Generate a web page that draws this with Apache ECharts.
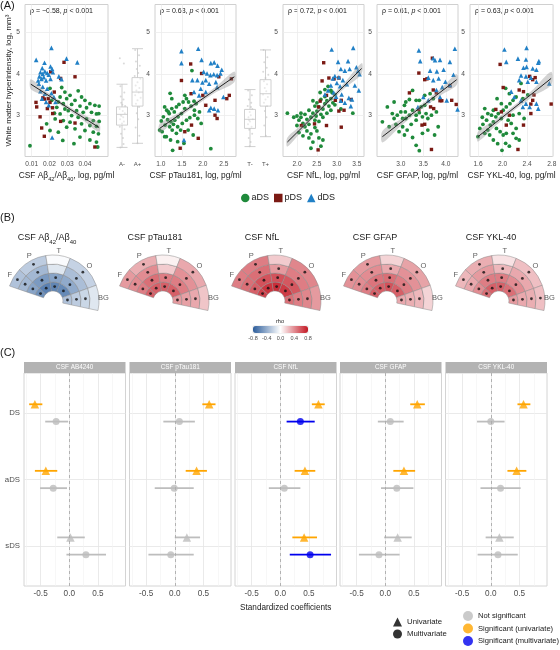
<!DOCTYPE html>
<html>
<head>
<meta charset="utf-8">
<script src="https://cdn.jsdelivr.net/npm/echarts@6.0.0/dist/echarts.min.js"></script>
<style>html,body{margin:0;padding:0;background:#fff;}#chart{width:560px;height:650px;}</style>
</head>
<body>
<div id="chart"></div>
<script>
// ======================= DATA =======================
const groups = ['aDS', 'pDS', 'dDS'];

// ---- Panel A: CSF Aβ42/Aβ40 ----
const ab_aDS = [[0.0203,3.65],[0.0269,3.67],[0.0362,3.59],[0.0316,3.48],[0.0381,3.44],[0.0297,3.40],[0.0344,3.36],[0.0400,3.36],[0.0428,3.28],[0.0456,3.24],[0.0480,3.22],[0.0250,3.32],[0.0278,3.28],[0.0325,3.26],[0.0372,3.22],[0.0409,3.18],[0.0241,3.19],[0.0287,3.15],[0.0306,3.11],[0.0353,3.11],[0.0390,3.07],[0.0437,3.07],[0.0465,3.03],[0.0478,3.04],[0.0260,3.03],[0.0325,2.99],[0.0362,2.95],[0.0409,2.91],[0.0447,2.87],[0.0480,2.85],[0.0232,2.91],[0.0278,2.87],[0.0316,2.83],[0.0381,2.79],[0.0428,2.75],[0.0465,2.73],[0.0297,2.71],[0.0344,2.67],[0.0400,2.63],[0.0447,2.59],[0.0476,2.55],[0.0250,2.59],[0.0203,2.63],[0.0275,2.39],[0.0372,2.47],[0.0428,2.40],[0.0465,2.35],[0.0472,2.23],[0.0338,2.31],[0.0184,2.79],[0.0228,3.05],[0.0260,3.44],[0.0287,3.56],[0.0090,2.26],[0.0213,3.36]];
const ab_pDS = [[0.0282,4.28],[0.0344,3.93],[0.0207,4.05],[0.0263,3.89],[0.0227,3.56],[0.0171,3.39],[0.0163,3.42],[0.0124,3.31],[0.0203,3.31],[0.0217,3.18],[0.0147,2.96],[0.0156,2.69],[0.0171,2.49],[0.0218,3.04],[0.0263,2.85],[0.0344,2.81],[0.0456,2.23],[0.0128,3.20],[0.0188,3.16],[0.0193,3.40]];
const ab_dDS = [[0.0211,4.63],[0.0125,4.34],[0.0172,4.27],[0.0296,4.37],[0.0357,4.28],[0.0159,4.14],[0.0206,4.18],[0.0215,4.12],[0.0149,4.04],[0.0162,4.00],[0.0174,4.06],[0.0187,4.02],[0.0196,3.98],[0.0219,4.04],[0.0143,3.94],[0.0155,3.88],[0.0168,3.92],[0.0181,3.84],[0.0206,3.88],[0.0253,3.94],[0.0268,3.87],[0.0140,3.76],[0.0162,3.69],[0.0187,3.64],[0.0149,3.58],[0.0174,3.52],[0.0211,3.53],[0.0158,3.40],[0.0181,3.32],[0.0225,3.44],[0.0234,3.32],[0.0215,2.46],[0.0196,3.24],[0.0136,3.84]];
const ab_fit = [[0.0095,3.75],[0.048,2.70]];
const ab_ci = [[0.0095,3.63,3.87],[0.018,3.46,3.58],[0.028,3.20,3.29],[0.038,2.91,3.04],[0.048,2.59,2.81]];

// ---- Panel A: CSF pTau181 ----
const pt_aDS = [[1.22,3.53],[1.09,3.20],[1.14,3.12],[1.20,3.04],[1.26,3.16],[1.32,3.08],[1.37,3.20],[1.43,3.26],[1.53,3.32],[1.61,3.40],[1.66,3.32],[1.72,3.22],[1.79,3.34],[1.84,3.28],[1.57,3.16],[1.49,3.04],[1.41,2.96],[1.33,2.88],[1.24,2.84],[1.16,2.89],[1.06,2.96],[1.01,2.86],[1.10,2.76],[1.21,2.72],[1.30,2.78],[1.40,2.72],[1.51,2.80],[1.61,2.88],[1.69,2.94],[1.80,3.00],[1.88,2.92],[1.96,2.80],[1.27,2.64],[1.37,2.56],[1.47,2.64],[1.13,2.48],[1.03,2.60],[1.23,2.40],[1.40,2.36],[1.65,2.64],[1.77,2.52],[1.55,2.32],[1.28,2.15],[2.19,2.19],[1.74,4.08],[1.26,3.40],[1.80,3.12],[1.92,3.08],[0.97,2.64],[1.09,2.48],[1.18,3.08],[1.57,3.48]];
const pt_pDS = [[1.71,4.24],[1.49,3.84],[1.97,4.01],[2.38,3.93],[1.72,3.52],[2.00,3.48],[2.57,3.40],[2.63,3.48],[2.29,3.36],[2.07,3.24],[2.29,3.00],[1.73,2.76],[1.57,2.60],[1.89,2.44],[1.46,2.20],[2.34,2.92],[2.68,3.88]];
const pt_dDS = [[1.49,4.26],[1.49,4.55],[1.89,4.61],[1.97,4.34],[2.19,4.26],[2.27,4.28],[2.35,4.20],[2.45,4.10],[2.02,4.05],[2.10,4.01],[2.18,3.97],[2.26,3.99],[2.34,3.97],[2.42,4.01],[1.75,3.85],[1.87,3.85],[1.99,3.79],[2.07,3.85],[1.95,3.64],[2.15,3.76],[2.31,3.80],[2.49,3.44],[2.19,3.18],[2.27,3.16],[2.15,3.12],[2.36,3.12],[1.55,2.40],[1.79,3.56],[1.91,3.48],[2.07,3.56],[2.34,3.68]];
const pt_fit = [[0.97,2.68],[2.75,3.93]];
const pt_ci = [[0.97,2.57,2.79],[1.4,2.92,3.04],[1.9,3.28,3.38],[2.3,3.55,3.68],[2.75,3.80,4.06]];

// ---- Panel A: CSF NfL ----
const nf_aDS = [[1.76,3.05],[1.92,2.95],[2.0,2.75],[2.05,2.88],[2.1,2.95],[2.15,2.80],[2.2,2.72],[2.25,2.90],[2.3,2.78],[2.35,2.95],[2.4,3.05],[2.45,2.88],[2.5,3.10],[2.55,3.20],[2.6,3.02],[2.65,3.15],[2.7,3.28],[2.75,3.35],[2.8,3.22],[2.85,3.40],[2.9,3.30],[2.95,3.50],[2.88,3.55],[2.7,3.45],[2.6,3.38],[2.5,3.30],[2.45,3.22],[2.4,3.35],[2.3,3.12],[2.2,3.02],[2.1,3.05],[2.0,2.98],[2.25,2.62],[2.35,2.55],[2.45,2.70],[2.55,2.85],[2.65,2.95],[2.75,3.05],[2.85,3.12],[2.3,2.45],[2.4,2.35],[2.35,2.20],[2.55,2.45],[2.65,2.40],[2.15,2.50],[2.05,2.58],[2.85,3.60],[2.78,3.70],[2.7,3.62],[2.95,3.25],[2.5,2.62],[3.1,3.15],[3.4,3.05],[2.6,2.25],[2.48,2.98],[2.58,3.55]];
const nf_pDS = [[2.67,4.27],[2.80,3.90],[2.93,3.88],[3.05,3.90],[2.63,3.83],[2.74,3.48],[2.96,3.36],[3.11,3.36],[3.36,3.38],[3.05,3.10],[2.54,3.20],[2.74,2.75],[2.44,2.79],[2.11,2.75],[2.53,2.16],[3.11,2.71],[3.18,3.12],[2.58,3.34]];
const nf_dDS = [[2.87,4.59],[3.41,4.63],[3.03,4.29],[3.28,4.31],[3.10,4.12],[3.20,4.08],[3.32,4.12],[3.49,4.16],[3.53,4.07],[3.57,3.99],[2.90,3.89],[2.95,3.95],[3.05,3.92],[3.15,3.85],[3.00,3.78],[2.85,3.72],[3.08,3.70],[3.25,3.75],[3.45,3.72],[2.78,3.60],[2.92,3.55],[3.12,3.50],[3.30,3.42],[3.38,3.38],[3.10,3.35],[2.70,3.50],[3.55,3.60],[3.20,3.30],[3.35,3.22],[2.98,3.45]];
const nf_fit = [[1.76,2.35],[3.62,4.13]];
const nf_ci = [[1.76,2.24,2.46],[2.2,2.71,2.83],[2.7,3.20,3.30],[3.2,3.66,3.80],[3.62,4.00,4.26]];

// ---- Panel A: CSF GFAP ----
const gf_aDS = [[2.59,2.84],[2.70,3.20],[2.85,3.32],[2.81,3.04],[2.92,3.00],[3.00,3.08],[3.08,3.24],[3.11,3.32],[3.10,3.08],[3.19,3.00],[3.26,3.12],[3.34,3.00],[3.41,3.06],[3.48,2.96],[3.56,3.04],[3.60,2.92],[3.68,3.00],[3.41,3.36],[3.53,3.48],[3.65,3.52],[3.72,3.40],[3.26,3.60],[3.19,3.38],[3.34,3.36],[2.74,2.72],[2.89,2.78],[3.04,2.72],[3.14,2.64],[3.23,2.78],[3.34,2.88],[3.08,2.52],[3.26,2.46],[3.34,2.27],[3.41,2.14],[3.48,2.56],[3.60,2.64],[3.75,2.52],[3.83,2.72],[2.96,2.60],[3.11,2.92],[2.85,2.92],[3.04,2.92],[3.45,3.20],[3.53,3.24],[3.79,3.08]];
const gf_pDS = [[3.70,4.38],[3.40,4.02],[3.53,3.86],[3.58,3.88],[3.72,3.61],[3.87,3.35],[3.91,3.35],[4.13,3.36],[4.23,3.26],[3.66,3.20],[3.73,3.16],[3.19,3.54],[3.40,3.14],[3.53,2.78],[3.47,2.76],[3.68,2.17],[4.09,3.71],[3.79,3.54]];
const gf_dDS = [[3.40,4.57],[4.20,4.61],[3.43,4.31],[3.72,4.38],[3.76,4.33],[3.87,4.34],[4.09,4.29],[3.65,4.08],[3.80,4.06],[3.95,4.10],[4.17,3.98],[3.61,3.91],[3.72,3.85],[3.84,3.89],[3.99,3.81],[4.09,3.73],[3.92,3.68],[3.79,3.61],[4.26,3.14],[3.38,3.20],[4.02,3.36],[3.61,3.36],[3.50,3.44],[3.87,3.44]];
const gf_fit = [[2.59,2.48],[4.24,3.86]];
const gf_ci = [[2.59,2.34,2.62],[3.0,2.74,2.90],[3.5,3.18,3.30],[3.9,3.49,3.66],[4.24,3.73,3.99]];

// ---- Panel A: CSF YKL-40 ----
const yk_aDS = [[1.60,2.48],[1.63,2.68],[1.68,2.78],[1.74,2.88],[1.71,2.56],[1.76,2.64],[1.80,2.76],[1.85,2.84],[1.89,2.96],[1.93,3.04],[1.98,2.92],[2.01,3.12],[2.06,3.20],[2.12,3.28],[2.17,3.36],[2.22,3.44],[1.90,2.68],[1.96,2.60],[2.01,2.52],[2.06,2.56],[1.79,2.52],[1.85,2.40],[1.92,2.31],[2.05,2.32],[2.11,2.25],[1.99,2.15],[2.17,2.56],[2.22,2.44],[2.27,2.40],[2.22,2.68],[2.14,2.80],[2.09,2.88],[1.98,3.28],[1.91,3.40],[1.82,3.00],[1.76,3.04],[1.67,2.95],[1.85,3.12],[2.30,3.77],[2.27,3.04],[2.35,2.92],[2.17,3.00],[2.11,3.52],[2.33,3.40],[2.41,3.49],[1.71,3.16],[2.05,3.65]];
const yk_pDS = [[1.96,4.23],[2.44,3.94],[2.49,3.86],[2.53,3.91],[2.27,3.61],[2.34,3.57],[2.51,3.49],[2.49,3.36],[2.46,3.27],[2.79,3.27],[1.89,3.14],[1.98,3.08],[2.11,3.00],[2.06,2.76],[2.34,2.76],[2.46,3.04],[2.25,2.17],[2.01,3.67]];
const yk_dDS = [[2.03,4.59],[2.39,4.63],[2.25,4.37],[2.38,4.35],[2.06,4.29],[2.34,4.15],[2.39,4.17],[2.49,4.13],[2.59,4.31],[2.58,4.27],[2.55,4.10],[2.30,3.96],[2.38,3.94],[2.46,3.91],[2.27,3.85],[2.41,3.81],[2.55,3.81],[2.76,3.77],[2.14,3.57],[2.19,3.44],[2.30,3.36],[2.38,3.28],[2.44,3.20],[2.58,3.16],[2.55,3.28],[2.33,3.20]];
const yk_fit = [[1.6,2.48],[2.79,3.89]];
const yk_ci = [[1.6,2.36,2.60],[1.9,2.76,2.91],[2.2,3.13,3.25],[2.5,3.46,3.63],[2.79,3.73,4.05]];

// Correlation annotations
const rhoLabels = ['−0.58', '0.63', '0.72', '0.61', '0.63'];
const pLabels = ['< 0.001', '< 0.001', '< 0.001', '< 0.001', '< 0.001'];

// Axis tick labels for Panel A
const ticks_ab = [0.01, 0.02, 0.03, 0.04];
const ticks_pt = [1.0, 1.5, 2.0, 2.5];
const ticks_nf = [2.0, 2.5, 3.0, 3.5];
const ticks_gf = [3.0, 3.5, 4.0];
const ticks_yk = [1.6, 2.0, 2.4, 2.8];
const ticks_wmh = [3, 4, 5];

// Marginal box plots: [min, Q1, median, Q3, max]
const boxA_cats = ['A-', 'A+'];
const boxA = [[2.22, 2.76, 3.02, 3.20, 3.75], [2.32, 3.22, 3.56, 3.91, 4.61]];
const boxT_cats = ['T-', 'T+'];
const boxT = [[2.24, 2.68, 2.90, 3.14, 3.62], [2.48, 3.22, 3.52, 3.86, 4.58]];
const jitA = [[0.86,4.38],[1.12,4.25],[0.90,3.70],[1.15,3.55],[0.92,3.45],[1.10,3.38],[0.95,3.30],[1.20,3.22],[0.85,3.15],[1.05,3.10],[1.18,3.05],[0.92,3.00],[1.08,2.95],[0.88,2.90],[1.12,2.85],[1.00,2.80],[0.86,2.72],[1.16,2.66],[0.94,2.55],[1.06,2.45],[1.10,2.30],[0.90,2.22],[1.02,3.25],[0.97,2.98],
  [1.85,4.58],[2.10,4.45],[1.90,4.30],[2.15,4.20],[1.95,4.12],[2.05,4.02],[1.82,3.95],[2.18,3.88],[2.00,3.80],[1.88,3.72],[2.12,3.66],[1.93,3.60],[2.08,3.55],[1.85,3.48],[2.20,3.42],[2.00,3.36],[1.90,3.28],[2.10,3.20],[1.95,3.05],[2.05,2.90],[1.88,2.70],[2.12,2.50],[2.00,2.32]];
const jitT = [[0.88,3.60],[1.12,3.48],[0.93,3.38],[1.08,3.30],[0.85,3.22],[1.15,3.15],[0.98,3.08],[1.05,3.00],[0.90,2.95],[1.18,2.90],[1.00,2.85],[0.87,2.78],[1.10,2.72],[0.95,2.65],[1.14,2.55],[0.92,2.45],[1.04,2.35],[0.98,2.25],[1.06,3.20],[0.94,2.88],
  [1.88,4.58],[2.12,4.40],[1.92,4.28],[2.08,4.15],[1.85,4.05],[2.18,3.98],[2.00,3.90],[1.90,3.82],[2.10,3.75],[1.95,3.66],[2.05,3.58],[1.84,3.50],[2.15,3.44],[2.00,3.38],[1.90,3.30],[2.10,3.22],[1.96,3.10],[2.06,2.95],[1.92,2.75],[2.02,2.50]];

// ---- Panel B: regional rho (lobes x rings inner->outer) ----
const lobes = ['F', 'P', 'T', 'O', 'BG'];
const fanTitles = ['{n|CSF Aβ}{s|42}{n|/Aβ}{s|40}', '{n|CSF pTau181}', '{n|CSF NfL}', '{n|CSF GFAP}', '{n|CSF YKL-40}'];
const rho_ab = [[-0.55,-0.45,-0.35,-0.30],[-0.62,-0.50,-0.35,-0.25],[-0.60,-0.45,-0.12,-0.02],[-0.58,-0.42,-0.32,-0.22],[-0.30,-0.25,-0.20,-0.12]];
const rho_pt = [[0.55,0.45,0.40,0.35],[0.55,0.50,0.40,0.28],[0.55,0.45,0.18,0.05],[0.55,0.45,0.38,0.30],[0.35,0.33,0.30,0.20]];
const rho_nf = [[0.65,0.55,0.50,0.45],[0.70,0.60,0.50,0.45],[0.72,0.60,0.35,0.18],[0.68,0.58,0.45,0.42],[0.50,0.45,0.42,0.35]];
const rho_gf = [[0.55,0.45,0.40,0.38],[0.55,0.48,0.40,0.35],[0.60,0.50,0.30,0.15],[0.55,0.45,0.38,0.32],[0.30,0.28,0.25,0.15]];
const rho_yk = [[0.50,0.40,0.30,0.25],[0.55,0.45,0.35,0.28],[0.55,0.45,0.25,0.10],[0.50,0.40,0.30,0.22],[0.35,0.30,0.28,0.22]];
const sig_ab = [[1,1,1,1],[1,1,1,1],[1,1,0,0],[1,1,1,1],[1,1,1,0]];
const sig_pt = [[1,1,1,1],[1,1,1,1],[1,1,0,0],[1,1,1,1],[1,1,1,0]];
const sig_nf = [[1,1,1,1],[1,1,1,1],[1,1,1,0],[1,1,1,1],[1,1,1,0]];
const sig_gf = [[1,1,1,1],[1,1,1,1],[1,1,1,0],[1,1,1,1],[1,1,1,0]];
const sig_yk = [[1,1,1,1],[1,1,1,1],[1,1,1,0],[1,1,1,1],[1,1,1,1]];
const rhoTicks = [-0.8, -0.4, 0.0, 0.4, 0.8];

// ---- Panel C: standardized coefficients [estimate, lower, upper] for rows DS, aDS, sDS ----
const forestRows = ['DS', 'aDS', 'sDS'];
const stripTitles = ['CSF AB4240', 'CSF pTau181', 'CSF NfL', 'CSF GFAP', 'CSF YKL-40'];
const uni_ab = [[-0.60,-0.70,-0.47],[-0.41,-0.60,-0.21],[0.02,-0.21,0.27]];
const multi_ab = [[-0.23,-0.42,-0.02],[-0.28,-0.51,-0.04],[0.29,-0.05,0.64]];
const uni_pt = [[0.60,0.48,0.71],[0.38,0.19,0.56],[0.21,0.00,0.44]];
const multi_pt = [[0.08,-0.20,0.35],[-0.01,-0.35,0.33],[-0.07,-0.46,0.33]];
const uni_nf = [[0.665,0.55,0.775],[0.43,0.25,0.61],[0.415,0.21,0.64]];
const multi_nf = [[0.35,0.11,0.60],[0.07,-0.20,0.35],[0.52,0.165,0.885]];
const uni_gf = [[0.557,0.435,0.69],[0.325,0.14,0.52],[0.215,-0.02,0.46]];
const multi_gf = [[0.087,-0.13,0.32],[0.20,-0.075,0.49],[-0.11,-0.46,0.25]];
const uni_yk = [[0.57,0.465,0.69],[0.45,0.29,0.62],[0.15,-0.09,0.40]];
const multi_yk = [[0.00,-0.24,0.24],[0.17,-0.18,0.52],[0.125,-0.23,0.47]];
const uniSig = [[1,1,0],[1,1,0],[1,1,1],[1,1,0],[1,1,0]];
const multiSig = [[0,0,0],[0,0,0],[1,0,1],[0,0,0],[0,0,0]];
const cTicks = [-0.5, 0.0, 0.5];
const cMinor = [-0.75, -0.25, 0.25, 0.75];

// ======================= STYLE / LAYOUT =======================
const FONT = "'Liberation Sans', Arial, Helvetica, sans-serif";
const GCOL = ['#1f8a3b', '#7b1a14', '#2180c6'];
const GSYM = ['circle', 'rect', 'triangle'];
const GSZ = [3.8, 3.4, 4.6];
const SIGCOL = ['#bdbdbd', '#ffa500', '#0000ee'];
const RHO_NEG = [44, 93, 155], RHO_POS = [196, 24, 36];
const TXT = '#1a1a1a', TICK = '#4d4d4d';

function rhoColor(v) {
  const t = Math.min(1, Math.abs(v) / 0.8);
  const e = v < 0 ? RHO_NEG : RHO_POS;
  const c = e.map(k => Math.round(255 + (k - 255) * t));
  return 'rgb(' + c.join(',') + ')';
}

const option = {
  animation: false, backgroundColor: '#ffffff', textStyle: { fontFamily: FONT },
  grid: [], xAxis: [], yAxis: [], polar: [], angleAxis: [], radiusAxis: [],
  series: [], graphic: [], legend: [], visualMap: []
};
const X = option.xAxis, Y = option.yAxis, S = option.series, G = option.graphic;
function addGrid(g) { option.grid.push(g); return option.grid.length - 1; }
function txt(x, y, text, st) {
  G.push({ type: 'text', x: x, y: y, silent: true,
    style: Object.assign({ text: text, fontFamily: FONT, fontSize: 10, fill: TXT, align: 'left', verticalAlign: 'middle' }, st || {}) });
}
const subRich = (n, s) => ({ n: { fontSize: n, lineHeight: n + 3, verticalAlign: 'top', fontFamily: FONT, color: TXT },
                           s: { fontSize: s, lineHeight: n + 3, verticalAlign: 'bottom', fontFamily: FONT, color: TXT } });

// ======================= PANEL A =======================
const A_TOP = 4.5, A_H = 152, Y_MIN = 2.0, Y_MAX = 5.68;
const aPanels = [
  { x: [25, 108], min: 0.0062, max: 0.053, ticks: ticks_ab, dec: 2, name: '{n|CSF Aβ}{s|42}{n|/Aβ}{s|40}{n|, log, pg/ml}', pts: [ab_aDS, ab_pDS, ab_dDS], fit: ab_fit, ci: ab_ci },
  { x: [155, 236], min: 0.86, max: 2.79, ticks: ticks_pt, dec: 1, name: '{n|CSF pTau181, log, pg/ml}', pts: [pt_aDS, pt_pDS, pt_dDS], fit: pt_fit, ci: pt_ci },
  { x: [283, 364], min: 1.65, max: 3.68, ticks: ticks_nf, dec: 1, name: '{n|CSF NfL, log, pg/ml}', pts: [nf_aDS, nf_pDS, nf_dDS], fit: nf_fit, ci: nf_ci },
  { x: [377, 458], min: 2.47, max: 4.27, ticks: ticks_gf, dec: 1, name: '{n|CSF GFAP, log, pg/ml}', pts: [gf_aDS, gf_pDS, gf_dDS], fit: gf_fit, ci: gf_ci },
  { x: [470, 553], min: 1.47, max: 2.82, ticks: ticks_yk, dec: 1, name: '{n|CSF YKL-40, log, pg/ml}', pts: [yk_aDS, yk_pDS, yk_dDS], fit: yk_fit, ci: yk_ci }
];

aPanels.forEach((p, i) => {
  const gi = addGrid({ left: p.x[0], top: A_TOP, width: p.x[1] - p.x[0], height: A_H, show: true, borderColor: '#d0d0d0', borderWidth: 1, backgroundColor: '#fff' });
  const xi = X.push({ gridIndex: gi, type: 'value', min: p.min, max: p.max,
    axisLine: { show: false }, axisTick: { show: false, customValues: p.ticks },
    axisLabel: { customValues: p.ticks, formatter: v => Number(v).toFixed(p.dec), fontSize: 6.6, color: TICK, margin: 4 },
    splitLine: { show: true, lineStyle: { color: '#ececec', width: 0.8 } },
    name: p.name, nameLocation: 'middle', nameGap: 15, nameTextStyle: { rich: subRich(8.4, 5.6) } }) - 1;
  const yi = Y.push({ gridIndex: gi, type: 'value', min: Y_MIN, max: Y_MAX,
    axisLine: { show: false }, axisTick: { show: false, customValues: ticks_wmh },
    axisLabel: { customValues: ticks_wmh, formatter: v => String(v), fontSize: 6.6, color: TICK, margin: 5 },
    splitLine: { show: true, lineStyle: { color: '#ececec', width: 0.8 } },
    name: i === 0 ? 'White matter hyperintensity, log, mm³' : '', nameLocation: 'middle', nameGap: 12,
    nameTextStyle: { fontSize: 8, color: TXT } }) - 1;
  groups.forEach((g, k) => S.push({ type: 'scatter', name: g, xAxisIndex: xi, yAxisIndex: yi, data: p.pts[k],
    symbol: GSYM[k], symbolSize: GSZ[k], itemStyle: { color: GCOL[k], opacity: 1 }, silent: true, z: 2 }));
  const ci = p.ci;
  S.push({ type: 'custom', xAxisIndex: xi, yAxisIndex: yi, data: ci, silent: true, z: 3, clip: true,
    encode: { x: 0, y: [1, 2] },
    renderItem: (params, api) => {
      if (params.dataIndex !== 0) return null;
      const up = ci.map(r => api.coord([r[0], r[2]]));
      const lo = ci.map(r => api.coord([r[0], r[1]])).reverse();
      return { type: 'polygon', shape: { points: up.concat(lo), smooth: 0.3 }, style: { fill: 'rgba(140,140,140,0.38)' } };
    } });
  S.push({ type: 'line', xAxisIndex: xi, yAxisIndex: yi, data: p.fit, symbol: 'none', silent: true, z: 4,
    lineStyle: { color: '#222', width: 1 } });
  txt(p.x[0] + 5, 11, '{n|ρ = ' + rhoLabels[i] + ', }{i|p}{n| ' + pLabels[i] + '}',
    { rich: { n: { fontSize: 7, fontFamily: FONT, color: TXT }, i: { fontSize: 7, fontStyle: 'italic', fontFamily: FONT, color: TXT } } });
});

// marginal box plots
function addBox(left, cats, box, jit) {
  const gi = addGrid({ left: left, top: A_TOP, width: 31, height: A_H });
  const xc = X.push({ gridIndex: gi, type: 'category', data: cats, axisLine: { show: false }, axisTick: { show: false },
    axisLabel: { fontSize: 6, color: TICK, margin: 5 } }) - 1;
  const xv = X.push({ gridIndex: gi, type: 'value', min: 0.5, max: 2.5, show: false }) - 1;
  const yb = Y.push({ gridIndex: gi, type: 'value', min: Y_MIN, max: Y_MAX, show: false }) - 1;
  S.push({ type: 'scatter', xAxisIndex: xv, yAxisIndex: yb, data: jit, symbolSize: 2, silent: true,
    itemStyle: { color: 'rgba(170,170,170,0.55)' }, z: 1 });
  S.push({ type: 'boxplot', xAxisIndex: xc, yAxisIndex: yb, data: box, boxWidth: [11, 11], silent: true, z: 2,
    itemStyle: { color: 'rgba(255,255,255,0.4)', borderColor: '#c4c4c4', borderWidth: 0.8 } });
}
addBox(114.25, boxA_cats, boxA, jitA);
addBox(242.25, boxT_cats, boxT, jitT);

option.legend.push({ data: [{ name: 'aDS', icon: 'circle' }, { name: 'pDS', icon: 'rect' }, { name: 'dDS', icon: 'triangle' }],
  left: 241, top: 193.5, padding: 0, itemWidth: 8.5, itemHeight: 8.5, itemGap: 5, selectedMode: false,
  textStyle: { fontSize: 9, color: TXT, fontFamily: FONT, padding: [0, 0, 0, -3] } });

// ======================= PANEL B =======================
const fanCx = [53, 163, 275, 387, 499], fanCy = 301;
const fanTitleX = [47, 155, 262, 375, 491];
const lobeSpan = [24, 38, 31, 48, 32];   // angular widths (degrees)
const fanStart = 161;
const fanRho = [rho_ab, rho_pt, rho_nf, rho_gf, rho_yk];
const fanSig = [sig_ab, sig_pt, sig_nf, sig_gf, sig_yk];
const lobeStart = lobeSpan.map((s, j) => lobeSpan.slice(0, j).reduce((a, b) => a + b, 0));

fanRho.forEach((rho, i) => {
  option.polar.push({ center: [fanCx[i], fanCy], radius: [10, 55] });
  option.angleAxis.push({ polarIndex: i, type: 'value', min: 0, max: 360, startAngle: fanStart, clockwise: true,
    axisLine: { show: false }, axisTick: { show: false }, axisLabel: { show: false }, splitLine: { show: false } });
  option.radiusAxis.push({ polarIndex: i, type: 'category', data: ['r1', 'r2', 'r3', 'r4', 'lab'],
    axisLine: { show: false }, axisTick: { show: false }, axisLabel: { show: false }, splitLine: { show: false } });
  lobes.forEach((lb, j) => {
    S.push({ type: 'bar', coordinateSystem: 'polar', polarIndex: i, stack: 'fan' + i, barCategoryGap: '0%', silent: true,
      data: [0, 1, 2, 3, 4].map(k => k < 4 ? { value: lobeSpan[j], itemStyle: { color: rhoColor(rho[j][k]) } } : '-'),
      itemStyle: { borderColor: '#8a8a8a', borderWidth: 0.5 } });
  });
  const dots = [];
  fanSig[i].forEach((row, j) => row.forEach((s, k) => { if (s) dots.push([k, lobeStart[j] + lobeSpan[j] / 2]); }));
  S.push({ type: 'scatter', coordinateSystem: 'polar', polarIndex: i, data: dots, symbolSize: 2.8, silent: true, z: 5,
    itemStyle: { color: '#111' } });
  S.push({ type: 'scatter', coordinateSystem: 'polar', polarIndex: i, silent: true, z: 5, symbolSize: 1,
    data: lobes.map((lb, j) => ({ name: lb, value: [4, lobeStart[j] + lobeSpan[j] / 2] })),
    itemStyle: { color: 'rgba(0,0,0,0)' },
    label: { show: true, position: 'inside', formatter: '{b}', fontSize: 7.5, color: '#333', fontFamily: FONT } });
  txt(fanTitleX[i], 239, fanTitles[i], { align: 'center', rich: subRich(9, 6) });
});

// colour bar
const cbGrid = addGrid({ left: 253, top: 326, width: 55, height: 7, show: true, borderColor: '#d8d8d8', borderWidth: 0.6 });
const cbX = X.push({ gridIndex: cbGrid, type: 'value', min: -0.8, max: 0.8, interval: 0.4,
  axisLine: { show: false }, axisTick: { show: false }, splitLine: { show: false },
  axisLabel: { customValues: rhoTicks, formatter: v => Number(v).toFixed(1), fontSize: 5.5, color: TICK, margin: 2.5 } }) - 1;
const cbY = Y.push({ gridIndex: cbGrid, type: 'value', show: false }) - 1;
const cbSeries = S.push({ type: 'scatter', xAxisIndex: cbX, yAxisIndex: cbY, data: [], silent: true }) - 1;
option.visualMap.push({ type: 'continuous', min: -0.8, max: 0.8, orient: 'horizontal', left: 253, top: 326,
  itemWidth: 7, itemHeight: 55, calculable: false, text: null, padding: 0, hoverLink: false, seriesIndex: [cbSeries],
  inRange: { color: ['rgb(' + RHO_NEG.join(',') + ')', '#ffffff', 'rgb(' + RHO_POS.join(',') + ')'] } });
txt(280, 321.5, 'rho', { align: 'center', fontSize: 5.5, fill: TXT });

// ======================= PANEL C =======================
const cLeft = [24, 129.5, 235, 340, 445.5], C_W = 101.5, C_TOP = 373, C_H = 213;
const forestUni = [uni_ab, uni_pt, uni_nf, uni_gf, uni_yk];
const forestMulti = [multi_ab, multi_pt, multi_nf, multi_gf, multi_yk];
const DODGE = 0.13;

forestUni.forEach((uni, f) => {
  const gi = addGrid({ left: cLeft[f], top: C_TOP, width: C_W, height: C_H, show: true, borderColor: '#d4d4d4', borderWidth: 1 });
  const xi = X.push({ gridIndex: gi, type: 'value', min: -0.79, max: 0.98,
    axisLine: { show: false }, axisTick: { show: false, customValues: cTicks },
    axisLabel: { customValues: cTicks, formatter: v => Number(v).toFixed(1), fontSize: 8.2, color: TICK, margin: 4 },
    splitLine: { show: true, lineStyle: { color: '#e4e4e4', width: 0.8 } },
    name: f === 2 ? 'Standardized coefficients' : '', nameLocation: 'middle', nameGap: 18,
    nameTextStyle: { fontSize: 8.2, color: TXT } }) - 1;
  X.push({ gridIndex: gi, type: 'value', min: -0.79, max: 0.98, position: 'top',
    axisLine: { show: false }, axisTick: { show: false, customValues: cMinor }, axisLabel: { show: false },
    splitLine: { show: true, lineStyle: { color: '#f1f1f1', width: 0.6 } } });
  const yi = Y.push({ gridIndex: gi, type: 'value', min: 0.4, max: 3.6, inverse: true,
    axisLine: { show: false }, axisTick: { show: false, customValues: [1, 2, 3] },
    axisLabel: { show: f === 0, customValues: [1, 2, 3], formatter: v => forestRows[Math.round(v) - 1], fontSize: 7.8, color: TICK, margin: 4 },
    splitLine: { show: true, lineStyle: { color: '#e4e4e4', width: 0.8 } } }) - 1;
  // strip header
  G.push({ type: 'rect', silent: true, shape: { x: cLeft[f], y: 362, width: C_W, height: 11 }, style: { fill: '#b3b3b3' } });
  txt(cLeft[f] + C_W / 2, 367.5, stripTitles[f], { align: 'center', fontSize: 6.4, fill: '#ffffff' });

  const multi = forestMulti[f];
  const ciRows = [];
  uni.forEach((r, k) => ciRows.push([r[1], r[2], k + 1 - DODGE, uniSig[f][k] ? 1 : 0]));
  multi.forEach((r, k) => ciRows.push([r[1], r[2], k + 1 + DODGE, multiSig[f][k] ? 2 : 0]));
  S.push({ type: 'custom', xAxisIndex: xi, yAxisIndex: yi, data: ciRows, silent: true, z: 3,
    encode: { x: [0, 1], y: 2 },
    renderItem: (params, api) => {
      const a = api.coord([api.value(0), api.value(2)]);
      const b = api.coord([api.value(1), api.value(2)]);
      return { type: 'line', shape: { x1: a[0], y1: a[1], x2: b[0], y2: b[1] },
        style: { stroke: SIGCOL[api.value(3)], lineWidth: 1.8 } };
    } });
  S.push({ type: 'scatter', name: 'Univariate', xAxisIndex: xi, yAxisIndex: yi, symbol: 'triangle', symbolSize: 8.5, silent: true, z: 4,
    data: uni.map((r, k) => ({ value: [r[0], k + 1 - DODGE], itemStyle: { color: SIGCOL[uniSig[f][k] ? 1 : 0] } })),
    markLine: { silent: true, symbol: 'none', label: { show: false }, animation: false,
      lineStyle: { type: [3, 3], color: '#ababab', width: 0.9 }, data: [{ xAxis: 0 }] } });
  S.push({ type: 'scatter', name: 'Multivariate', xAxisIndex: xi, yAxisIndex: yi, symbol: 'circle', symbolSize: 7, silent: true, z: 4,
    data: multi.map((r, k) => ({ value: [r[0], k + 1 + DODGE], itemStyle: { color: SIGCOL[multiSig[f][k] ? 2 : 0] } })) });
  if (f === 0) {
    ['Not significant', 'Significant (univariate)', 'Significant (multivariate)'].forEach((nm, c) =>
      S.push({ type: 'scatter', name: nm, xAxisIndex: xi, yAxisIndex: yi, data: [], itemStyle: { color: SIGCOL[c] } }));
  }
});

option.legend.push({ data: [{ name: 'Univariate', icon: 'triangle', itemStyle: { color: '#000' } }, { name: 'Multivariate', icon: 'circle', itemStyle: { color: '#000' } }],
  orient: 'vertical', left: 393, top: 617.5, padding: 0, itemWidth: 9, itemHeight: 9, itemGap: 3, selectedMode: false,
  textStyle: { fontSize: 7.8, color: TXT, fontFamily: FONT } });
option.legend.push({ data: [{ name: 'Not significant', icon: 'circle' }, { name: 'Significant (univariate)', icon: 'circle' }, { name: 'Significant (multivariate)', icon: 'circle' }],
  orient: 'vertical', left: 463, top: 611, padding: 0, itemWidth: 10, itemHeight: 10, itemGap: 2.5, selectedMode: false,
  textStyle: { fontSize: 7.6, color: TXT, fontFamily: FONT } });

// panel labels
txt(0, 6, '(A)', { fontSize: 11 });
txt(0, 218, '(B)', { fontSize: 11 });
txt(0, 353, '(C)', { fontSize: 11 });

const chart = echarts.init(document.getElementById('chart'), null, { renderer: 'canvas' });
chart.setOption(option);
</script>
</body>
</html>
